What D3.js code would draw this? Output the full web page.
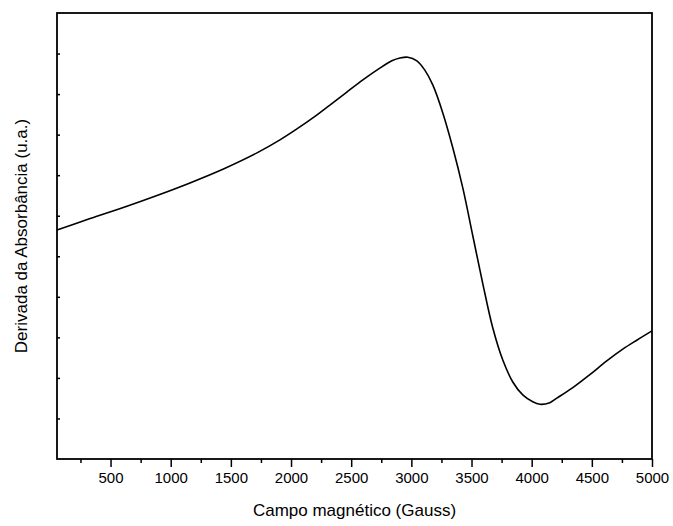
<!DOCTYPE html>
<html>
<head>
<meta charset="utf-8">
<script src="https://cdn.jsdelivr.net/npm/d3@7"></script>
<style>
  body { margin: 0; background: #fff; }
  text { font-family: "Liberation Sans", Arial, sans-serif; fill: #000; }
</style>
</head>
<body>
<div id="container"></div>
<script>
/* DATA */
const campo = [55, 330, 612, 886, 1160, 1443, 1717, 1908, 2049, 2190, 2323, 2464, 2597, 2738, 2838, 2905, 2971, 3046, 3112, 3179, 3262, 3345, 3428, 3511, 3594, 3677, 3760, 3843, 3926, 4009, 4068, 4151, 4209, 4342, 4483, 4624, 4757, 4873, 5000];
const derivada = [5.65, 5.93, 6.21, 6.50, 6.81, 7.16, 7.55, 7.87, 8.14, 8.43, 8.73, 9.05, 9.35, 9.64, 9.82, 9.89, 9.91, 9.82, 9.59, 9.22, 8.53, 7.67, 6.68, 5.50, 4.32, 3.23, 2.44, 1.90, 1.58, 1.41, 1.35, 1.39, 1.50, 1.76, 2.08, 2.42, 2.71, 2.93, 3.16];
const xMajor = [500, 1000, 1500, 2000, 2500, 3000, 3500, 4000, 4500, 5000];
const xMinor = [250, 750, 1250, 1750, 2250, 2750, 3250, 3750, 4250, 4750];
const yTicks = [1, 2, 3, 4, 5, 6, 7, 8, 9, 10];

/* CONSTANTS */
const width = 673, height = 526;
const mLeft = 57, mRight = 652, mTop = 13, mBottom = 459;

const data = campo.map((c, i) => ({ x: c, y: derivada[i] }));

// SCALES
const xScale = d3.scaleLinear().domain([55, 5000]).range([mLeft, mRight]);
const yScale = d3.scaleLinear().domain([0, 11]).range([mBottom, mTop]);

const svg = d3.select("#container")
  .append("svg")
  .attr("width", width)
  .attr("height", height);

// frame
svg.append("rect")
  .attr("x", mLeft).attr("y", mTop)
  .attr("width", mRight - mLeft).attr("height", mBottom - mTop)
  .attr("fill", "none")
  .attr("stroke", "#000")
  .attr("stroke-width", 1.8);

// AXES
const xAxis = d3.axisBottom(xScale).tickValues(xMajor).tickFormat(d3.format("d"))
  .tickSize(8).tickSizeOuter(0).tickPadding(5);
const xAxisMinor = d3.axisBottom(xScale).tickValues(xMinor).tickSize(4).tickSizeOuter(0).tickFormat("");
const yAxis = d3.axisRight(yScale).tickValues(yTicks).tickSize(3).tickSizeOuter(0).tickFormat("");

const gx = svg.append("g").attr("transform", `translate(0,${mBottom})`).call(xAxis);
svg.append("g").attr("transform", `translate(0,${mBottom})`).call(xAxisMinor);
svg.append("g").attr("transform", `translate(${mLeft},0)`).call(yAxis);

svg.selectAll(".domain").remove();
svg.selectAll(".tick line").attr("stroke", "#000").attr("stroke-width", 1.5);
gx.selectAll("text")
  .style("font-size", "15px")
  .style("font-family", "'Liberation Sans', Arial, sans-serif");

// axis titles
svg.append("text")
  .attr("x", (mLeft + mRight) / 2)
  .attr("y", 516)
  .attr("text-anchor", "middle")
  .style("font-size", "17px")
  .text("Campo magnético (Gauss)");

svg.append("text")
  .attr("transform", `translate(27,${(mTop + mBottom) / 2}) rotate(-90)`)
  .attr("text-anchor", "middle")
  .style("font-size", "17px")
  .text("Derivada da Absorbância (u.a.)");

// LINE
const line = d3.line()
  .x(d => xScale(d.x))
  .y(d => yScale(d.y))
  .curve(d3.curveCatmullRom);

svg.append("path")
  .datum(data)
  .attr("d", line)
  .attr("fill", "none")
  .attr("stroke", "#000")
  .attr("stroke-width", 1.6);
</script>
</body>
</html>
